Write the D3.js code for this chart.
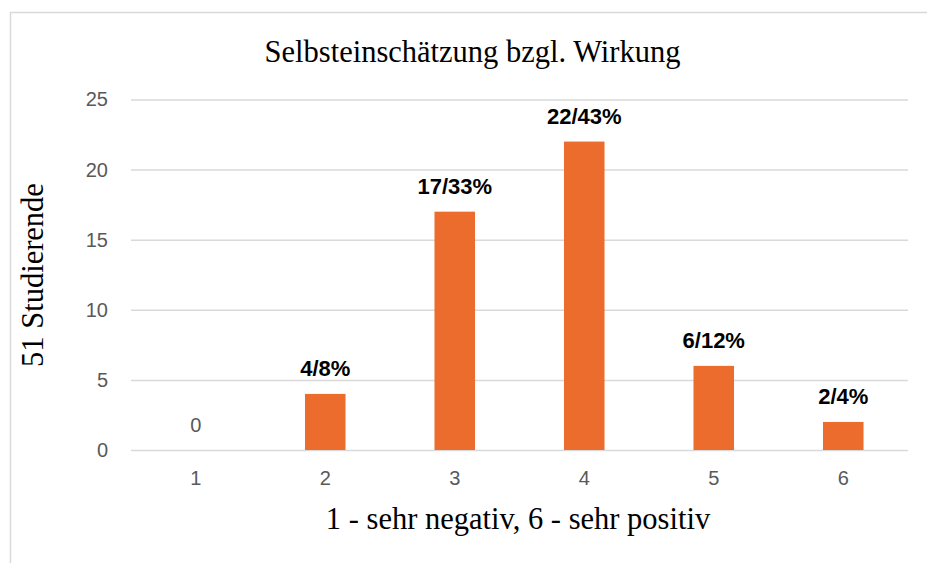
<!DOCTYPE html>
<html>
<head>
<meta charset="utf-8">
<script src="https://cdn.jsdelivr.net/npm/d3@7"></script>
<style>
  body { margin: 0; background: #fff; }
  svg { display: block; }
</style>
</head>
<body>
<div id="chart"></div>
<script>
// data
var categories = ["1", "2", "3", "4", "5", "6"];
var counts = [0, 4, 17, 22, 6, 2];
var barLabels = ["0", "4/8%", "17/33%", "22/43%", "6/12%", "2/4%"];
var yTicks = [0, 5, 10, 15, 20, 25];

var width = 927, height = 563;
var margin = { top: 99.5, right: 19, bottom: 113, left: 131 };

var svg = d3.select("#chart").append("svg")
    .attr("width", width)
    .attr("height", height);

// chart frame (cut off at right and bottom)
svg.append("path")
    .attr("d", "M10.5," + height + "V12.5H" + width)
    .attr("fill", "none")
    .attr("stroke", "#d9d9d9")
    .attr("stroke-width", 1.5);

var x = d3.scaleBand()
    .domain(categories)
    .range([margin.left, width - margin.right])
    .paddingInner(0.687)
    .paddingOuter(0.3435);

var y = d3.scaleLinear()
    .domain([0, 25])
    .range([height - margin.bottom, margin.top]);

// gridlines + y labels
var yAxis = svg.append("g")
    .attr("transform", "translate(" + margin.left + ",0)")
    .call(d3.axisLeft(y).tickValues(yTicks)
        .tickSize(-(width - margin.left - margin.right))
        .tickPadding(23));
yAxis.select(".domain").remove();
yAxis.selectAll(".tick line")
    .attr("stroke", "#d9d9d9")
    .attr("stroke-width", 1.5);
yAxis.selectAll(".tick text")
    .attr("fill", "#595959")
    .style("font-family", "Liberation Sans, Arial, sans-serif")
    .style("font-size", "20px");

// x labels
var xAxis = svg.append("g")
    .attr("transform", "translate(0," + y(0) + ")")
    .call(d3.axisBottom(x).tickSize(0).tickPadding(21));
xAxis.select(".domain").remove();
xAxis.selectAll(".tick text")
    .attr("fill", "#595959")
    .style("font-family", "Liberation Sans, Arial, sans-serif")
    .style("font-size", "20px");

// bars
svg.append("g").selectAll("rect")
    .data(counts)
    .join("rect")
    .attr("x", function (d, i) { return x(categories[i]); })
    .attr("y", function (d) { return y(d); })
    .attr("width", x.bandwidth())
    .attr("height", function (d) { return y(0) - y(d); })
    .attr("fill", "#ec6c2e");

// value labels
svg.append("g").selectAll("text")
    .data(counts)
    .join("text")
    .attr("x", function (d, i) { return x(categories[i]) + x.bandwidth() / 2; })
    .attr("y", function (d) { return y(d) - 18; })
    .attr("text-anchor", "middle")
    .attr("fill", function (d) { return d === 0 ? "#595959" : "#000"; })
    .style("font-family", "Liberation Sans, Arial, sans-serif")
    .style("font-weight", function (d) { return d === 0 ? "normal" : "bold"; })
    .style("font-size", function (d) { return d === 0 ? "20px" : "22px"; })
    .text(function (d, i) { return barLabels[i]; });

// titles
var serif = "Liberation Serif, Times New Roman, serif";
svg.append("text")
    .attr("x", 472.5)
    .attr("y", 62)
    .attr("text-anchor", "middle")
    .style("font-family", serif)
    .style("font-size", "30.5px")
    .text("Selbsteinschätzung bzgl. Wirkung");

svg.append("text")
    .attr("x", 518)
    .attr("y", 529)
    .attr("text-anchor", "middle")
    .style("font-family", serif)
    .style("font-size", "30.5px")
    .text("1 - sehr negativ, 6 - sehr positiv");

svg.append("text")
    .attr("transform", "translate(43,275) rotate(-90)")
    .attr("text-anchor", "middle")
    .style("font-family", serif)
    .style("font-size", "30.5px")
    .text("51 Studierende");
</script>
</body>
</html>
